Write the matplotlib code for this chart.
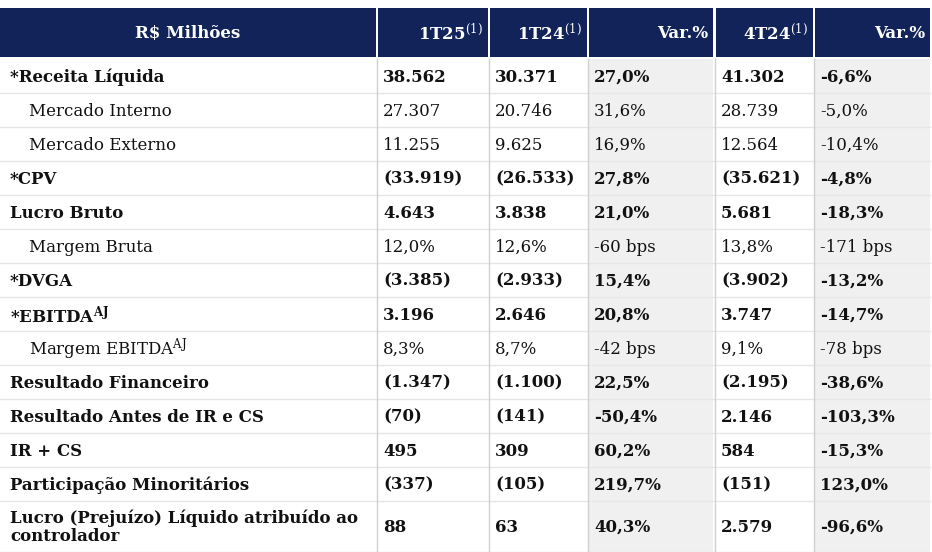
import matplotlib
matplotlib.use("Agg")
import matplotlib.pyplot as plt
from matplotlib.patches import Rectangle

plt.rcParams['font.family'] = 'DejaVu Serif'
plt.rcParams['mathtext.fontset'] = 'dejavuserif'

headers = ["R$ Milhões", r"1T25$^{\mathrm{(1)}}$", r"1T24$^{\mathrm{(1)}}$", "Var.%", r"4T24$^{\mathrm{(1)}}$", "Var.%"]
labels = ["*Receita Líquida", "Mercado Interno", "Mercado Externo", "*CPV", "Lucro Bruto",
          "Margem Bruta", "*DVGA", r"*EBITDA$^{\mathbf{AJ}}$", r"Margem EBITDA$^{\mathrm{AJ}}$", "Resultado Financeiro",
          "Resultado Antes de IR e CS", "IR + CS", "Participação Minoritários",
          "Lucro (Prejuízo) Líquido atribuído ao\ncontrolador"]
bold = [True, False, False, True, True, False, True, True, False, True, True, True, True, True]
q1_25 = ["38.562", "27.307", "11.255", "(33.919)", "4.643", "12,0%", "(3.385)", "3.196", "8,3%",
         "(1.347)", "(70)", "495", "(337)", "88"]
q1_24 = ["30.371", "20.746", "9.625", "(26.533)", "3.838", "12,6%", "(2.933)", "2.646", "8,7%",
         "(1.100)", "(141)", "309", "(105)", "63"]
var1 = ["27,0%", "31,6%", "16,9%", "27,8%", "21,0%", "-60 bps", "15,4%", "20,8%", "-42 bps",
        "22,5%", "-50,4%", "60,2%", "219,7%", "40,3%"]
q4_24 = ["41.302", "28.739", "12.564", "(35.621)", "5.681", "13,8%", "(3.902)", "3.747", "9,1%",
         "(2.195)", "2.146", "584", "(151)", "2.579"]
var2 = ["-6,6%", "-5,0%", "-10,4%", "-4,8%", "-18,3%", "-171 bps", "-13,2%", "-14,7%", "-78 bps",
        "-38,6%", "-103,3%", "-15,3%", "123,0%", "-96,6%"]

W, H = 932, 552
fig = plt.figure(figsize=(W/100, H/100), dpi=100)
ax = fig.add_axes([0, 0, 1, 1])
ax.set_xlim(0, W); ax.set_ylim(H, 0); ax.axis('off')

cols = [(0, 376), (378, 488), (490, 587), (589, 713), (716, 813), (815, 930)]
navy = '#12235a'
FS = 12
for i, (x0, x1) in enumerate(cols):
    ax.add_patch(Rectangle((x0, 8), x1 - x0, 49, color=navy, lw=0))
    if i == 0:
        ax.text((x0 + x1) / 2, 33, headers[i], color='white', fontsize=FS, weight='bold', ha='center', va='center')
    else:
        ax.text(x1 - 5, 33, headers[i], color='white', fontsize=FS, weight='bold', ha='right', va='center')

bounds = [59, 93, 127, 161, 195, 229, 263, 297, 331, 365, 399, 433, 467, 501, 552]
data = [q1_25, q1_24, var1, q4_24, var2]
for r in range(len(labels)):
    y0, y1 = bounds[r], bounds[r + 1]
    yc = (y0 + y1) / 2
    for ci in (3, 5):
        x0, x1 = cols[ci]
        ax.add_patch(Rectangle((x0, y0), x1 - x0, y1 - y0, color='#f0f0f0', lw=0))
    ax.plot([0, 930], [y1 - 0.5, y1 - 0.5], color='#e6e6e6', lw=1)
    w = 'bold' if bold[r] else 'normal'
    ax.text(10 if bold[r] else 29, yc + 1, labels[r], fontsize=FS, weight=w, ha='left', va='center',
            color='#111111', linespacing=1.1)
    for ci, arr in enumerate(data, start=1):
        ax.text(cols[ci][0] + 5, yc + 1, arr[r], fontsize=FS, weight=w, ha='left', va='center', color='#111111')

for x in [377, 489, 588, 714.5, 814]:
    ax.plot([x, x], [59, 552], color='#d0d0d0', lw=1)

fig.savefig('out.png', dpi=100)
